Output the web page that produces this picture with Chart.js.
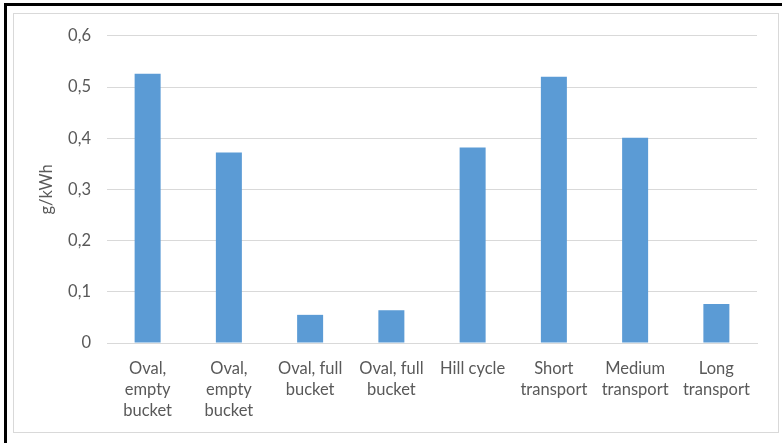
<!DOCTYPE html>
<html>
<head>
<meta charset="utf-8">
<script src="https://cdn.jsdelivr.net/npm/chart.js@4"></script>
<style>
  body { margin: 0; background: #fff; }
  #page { position: relative; width: 782px; height: 443px; overflow: hidden; }
  #edgeTop { position: absolute; left: 4px; top: 3px; width: 790px; height: 3px; background: #000; }
  #edgeLeft { position: absolute; left: 4px; top: 3px; width: 3px; height: 450px; background: #000; }
  #frame { position: absolute; left: 13px; top: 13px; width: 764px; height: 418px; border: 1px solid #d9d9d9; box-sizing: content-box; }
  #wrap { position: absolute; left: 15px; top: 10px; width: 762px; height: 421px; }
</style>
</head>
<body>
<div id="page">
  <div id="edgeTop"></div>
  <div id="edgeLeft"></div>
  <div id="frame"></div>
  <div id="wrap"><canvas id="chart"></canvas></div>
</div>
<script>
// Emission values per driving cycle
const categories = [
  ['Oval,', 'empty', 'bucket'],
  ['Oval,', 'empty', 'bucket'],
  ['Oval, full', 'bucket'],
  ['Oval, full', 'bucket'],
  ['Hill cycle'],
  ['Short', 'transport'],
  ['Medium', 'transport'],
  ['Long', 'transport']
];
const values = [0.526, 0.372, 0.055, 0.064, 0.382, 0.520, 0.401, 0.076];
const yTicks = [0, 0.1, 0.2, 0.3, 0.4, 0.5, 0.6];

const textColor = '#595959';
const gridColor = '#d9d9d9';
const fontFamily = 'Lato, "Open Sans", sans-serif';

new Chart(document.getElementById('chart'), {
  type: 'bar',
  data: {
    labels: categories,
    datasets: [{
      data: values,
      backgroundColor: '#5b9bd5',
      barPercentage: 0.64,
      categoryPercentage: 0.5
    }]
  },
  options: {
    responsive: true,
    maintainAspectRatio: false,
    animation: false,
    layout: { padding: { top: 25, right: 20, left: 0, bottom: 0 } },
    plugins: { legend: { display: false }, tooltip: { enabled: false } },
    scales: {
      x: {
        grid: { display: false, drawTicks: false },
        border: { color: gridColor, width: 1 },
        ticks: {
          color: textColor,
          font: { family: fontFamily, size: 16.5, lineHeight: 1.28 },
          padding: 15,
          maxRotation: 0,
          autoSkip: false
        },
        afterFit(scale) { scale.height = 88; }
      },
      y: {
        min: 0,
        max: 0.6,
        afterBuildTicks(scale) { scale.ticks = yTicks.map(v => ({ value: v })); },
        grid: { color: gridColor, lineWidth: 1, drawTicks: false },
        border: { display: false },
        ticks: {
          color: textColor,
          font: { family: fontFamily, size: 16.5 },
          padding: 16,
          callback: v => v === 0 ? '0' : v.toFixed(1).replace('.', ',')
        },
        title: {
          display: true,
          text: 'g/kWh',
          color: textColor,
          font: { family: fontFamily, size: 16.5 },
          padding: { top: 22, bottom: 0 }
        },
        afterFit(scale) { scale.width = 92; }
      }
    }
  }
});
</script>
</body>
</html>
